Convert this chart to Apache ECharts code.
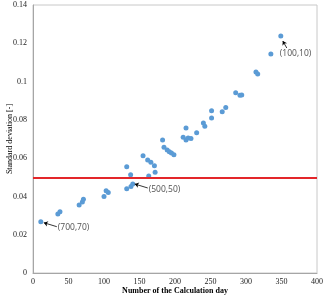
<!DOCTYPE html>
<html>
<head>
<meta charset="utf-8">
<script src="https://cdn.jsdelivr.net/npm/echarts@6/dist/echarts.min.js"></script>
<style>
  html, body { margin: 0; padding: 0; background: #fff; }
  #chart { width: 323px; height: 296px; }
</style>
</head>
<body>
<div id="chart"></div>
<script>
// calculation day / standard deviation pairs
const days = [11, 35, 38, 65, 69.5, 71, 100, 103, 106, 132, 137.5, 132, 138, 140.5,
  155, 161.5, 166, 171, 172, 163, 182.5, 184.5, 189, 192, 195, 198.5,
  211.5, 215.5, 215.5, 218.5, 222.5, 230.5, 240, 242, 251.5, 251.5,
  266.5, 271.5, 285.5, 291.5, 294, 314, 316.5, 335, 349];
const stdDev = [0.0268, 0.0308, 0.032, 0.0355, 0.0371, 0.0385, 0.040, 0.043, 0.042,
  0.0555, 0.0513, 0.044, 0.0452, 0.0465,
  0.0613, 0.059, 0.0578, 0.056, 0.0526, 0.0507, 0.0695, 0.0657, 0.0643, 0.0634, 0.0627, 0.0618,
  0.0709, 0.0757, 0.0695, 0.0705, 0.0702, 0.0733, 0.0783, 0.0766, 0.0848, 0.081,
  0.0842, 0.0864, 0.0942, 0.0928, 0.093, 0.105, 0.104, 0.1144, 0.1238];
const threshold = 0.05;
const yTicks = [0, 0.02, 0.04, 0.06, 0.08, 0.1, 0.12, 0.14];
const xTicks = [0, 50, 100, 150, 200, 250, 300, 350, 400];

// annotated points (index into days/stdDev)
const noteLabels = ['(100,10)', '(500,50)', '(700,70)'];
const notePoints = [44, 13, 0];

// pixel offsets of arrow start / tip from the point
const noteOffsets = [
  { from: [6, 12], to: [2, 5], text: [-1, 18] },
  { from: [15, 4], to: [2, 0], text: [16, 6] },
  { from: [16, 5], to: [3, 1], text: [17, 6] }
];

const grid = { left: 33, right: 6, top: 5, bottom: 23 };
const xMax = xTicks[xTicks.length - 1], yMax = yTicks[yTicks.length - 1];
const kx = xMax / (323 - grid.left - grid.right);
const ky = yMax / (296 - grid.top - grid.bottom);

function shift(p, off) {
  return [p[0] + off[0] * kx, p[1] - off[1] * ky];
}

const points = days.map((d, i) => [d, stdDev[i]]);

const arrows = notePoints.map((idx, i) => [
  { coord: shift(points[idx], noteOffsets[i].from) },
  { coord: shift(points[idx], noteOffsets[i].to) }
]);
const noteText = notePoints.map((idx, i) => ({
  name: noteLabels[i],
  value: shift(points[idx], noteOffsets[i].text)
}));

const serif = '"Liberation Serif", "DejaVu Serif", serif';
const chart = echarts.init(document.getElementById('chart'));
chart.setOption({
  animation: false,
  grid: {
    left: grid.left, right: grid.right, top: grid.top, bottom: grid.bottom,
    outerBoundsMode: 'none', containLabel: false,
    show: true, borderColor: '#c8c8c8', borderWidth: 1
  },
  xAxis: {
    type: 'value', min: 0, max: xMax, interval: 50,
    name: 'Number of the Calculation day', nameLocation: 'middle', nameGap: 14,
    nameMoveOverlap: false,
    nameTextStyle: { fontFamily: serif, fontWeight: 'bold', fontSize: 8, color: '#000' },
    axisLine: { show: true, lineStyle: { color: '#a6a6a6' } },
    axisTick: { show: false },
    splitLine: { show: false },
    axisLabel: { fontFamily: serif, fontSize: 8, color: '#222', margin: 5 }
  },
  yAxis: {
    type: 'value', min: 0, max: yMax, interval: 0.02,
    name: 'Standard deviation [-]', nameLocation: 'middle', nameGap: 19,
    nameMoveOverlap: false,
    nameTextStyle: { fontFamily: serif, fontSize: 8, color: '#000' },
    axisLine: { show: true, lineStyle: { color: '#a6a6a6' } },
    axisTick: { show: false },
    splitLine: { show: false },
    axisLabel: { fontFamily: serif, fontSize: 8, color: '#222', margin: 6 }
  },
  series: [
    {
      type: 'scatter',
      data: points,
      symbolSize: 5,
      itemStyle: { color: '#5b9bd5', opacity: 1 },
      markLine: {
        silent: true,
        symbol: ['none', 'none'],
        label: { show: false },
        lineStyle: { color: '#e3262a', width: 2, type: 'solid' },
        data: [{ yAxis: threshold }]
      }
    },
    {
      type: 'scatter',
      data: [],
      markLine: {
        silent: true,
        symbol: ['none', 'arrow'],
        symbolSize: 4,
        label: { show: false },
        lineStyle: { color: '#000', width: 0.8, type: 'solid' },
        data: arrows
      }
    },
    {
      type: 'scatter',
      data: noteText,
      symbolSize: 0,
      label: {
        show: true, position: 'right', distance: 0,
        formatter: p => p.name,
        fontFamily: '"Open Sans", "Noto Sans", sans-serif', fontSize: 8.5, color: '#222'
      }
    }
  ]
});
</script>
</body>
</html>
